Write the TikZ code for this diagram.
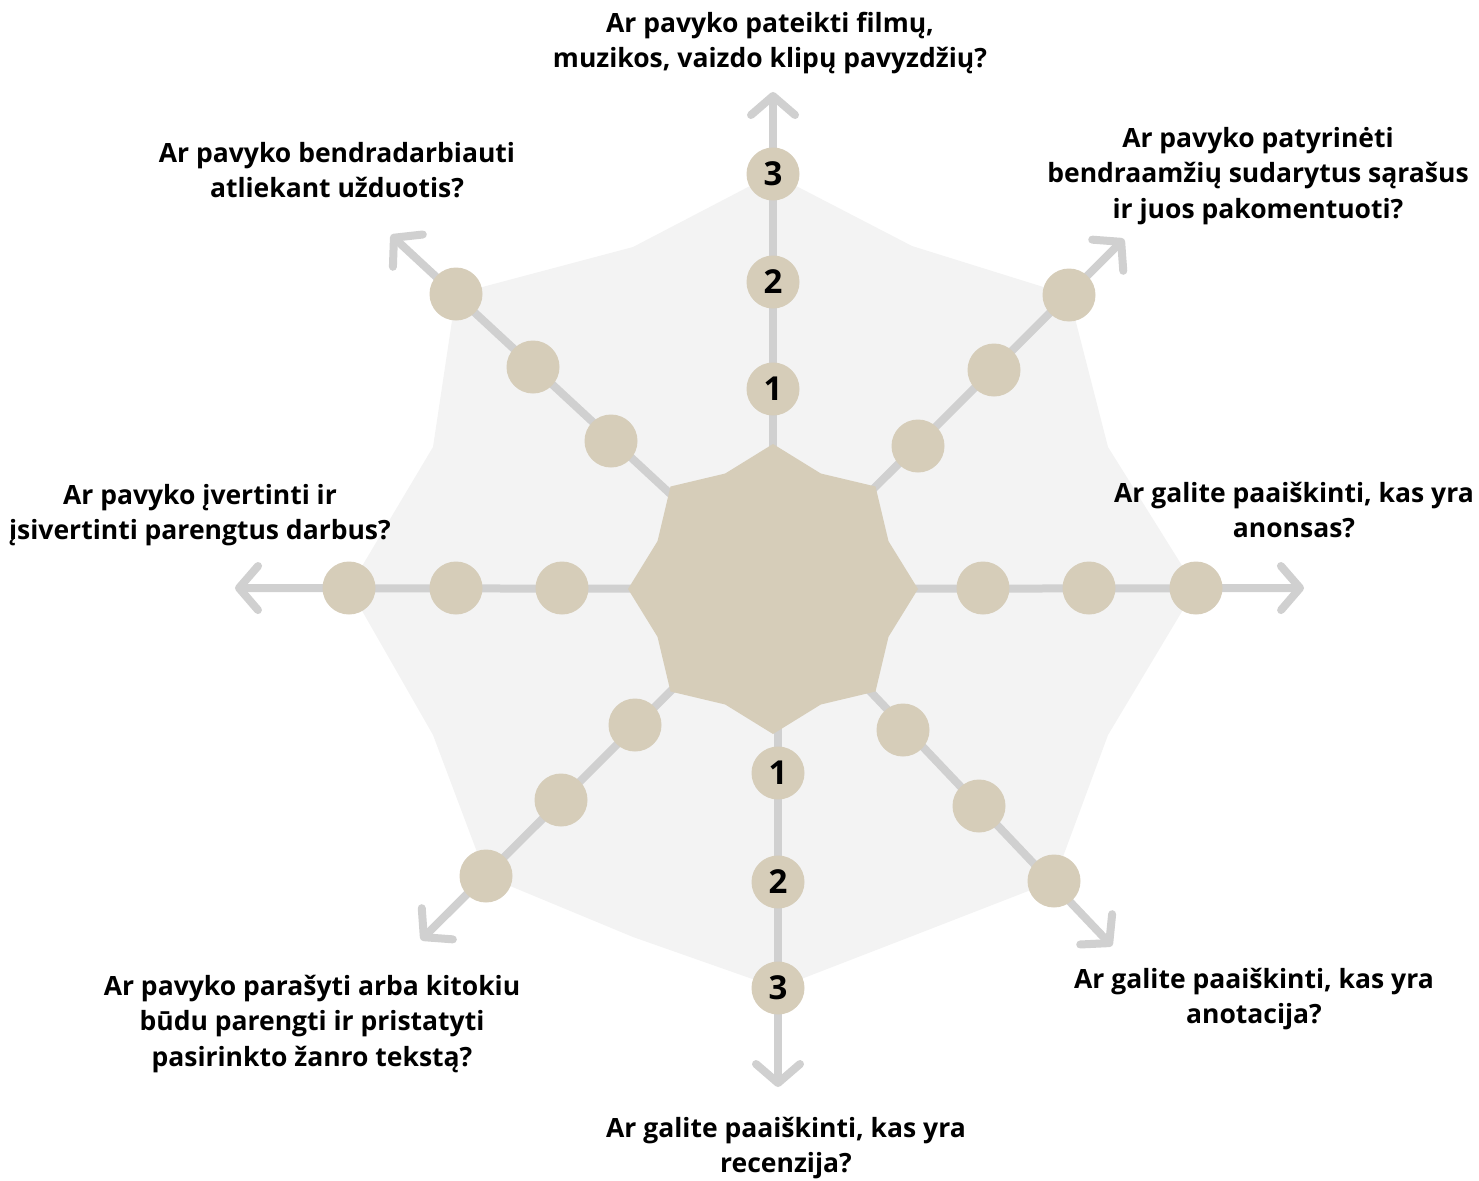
\documentclass[tikz,border=0pt]{standalone}
\usepackage{fontspec}
\setmainfont{Open Sans}
\usetikzlibrary{arrows.meta}
\definecolor{tanc}{HTML}{D6CDB9}
\definecolor{axisgray}{HTML}{D0D0D0}
\definecolor{bggray}{HTML}{F3F3F3}
\tikzset{
  lbl/.style={font=\bfseries\fontsize{26.5}{35.5}\selectfont, align=center, text=black, inner sep=0pt},
  dot/.style={circle, fill=tanc, minimum size=53pt, inner sep=0pt, font=\bfseries\fontsize{33}{33}\selectfont, text=black},
  axis/.style={draw=axisgray, line width=8pt, -{Straight Barb[length=19pt,width=44pt,round]}}
}
\begin{document}
\begin{tikzpicture}[x=1pt,y=-1pt]
\useasboundingbox (0,0) rectangle (1479,1180);
% background star polygon
\fill[bggray] (773,174) -- (912,246) -- (1069,295) -- (1108,447) -- (1196,588) -- (1108,735) -- (1054,881) -- (915,935) -- (778,988) -- (633,937) -- (486,876) -- (433,735) -- (349,588) -- (433,447) -- (456,294) -- (633,247) -- cycle;
% centre and arrow tips
\coordinate (o) at (773,589);
\coordinate (ob) at (778,660);
\coordinate (tN) at (773,92);
\coordinate (tNE) at (1124,239);
\coordinate (tE) at (1304,588);
\coordinate (tSE) at (1112,946);
\coordinate (tS) at (778,1087);
\coordinate (tSW) at (421,940);
\coordinate (tW) at (235,588);
\coordinate (tNW) at (391,235);
% axes
\draw[axis] (o) -- (tN);
\draw[axis] (o) -- (tNE);
\draw[axis] (o) -- (tE);
\draw[axis] (o) -- (tSE);
\draw[axis] (ob) -- (tS);
\draw[axis] (o) -- (tSW);
\draw[axis] (o) -- (tW);
\draw[axis] (o) -- (tNW);
% centre shape
\fill[tanc] (773,444) -- (820.8,473.5) -- (875.5,486.5) -- (888.5,541.2) -- (918,589) -- (888.5,636.8) -- (875.5,691.5) -- (820.8,704.5) -- (773,734) -- (725.2,704.5) -- (670.5,691.5) -- (657.5,636.8) -- (628,589) -- (657.5,541.2) -- (670.5,486.5) -- (725.2,473.5) -- cycle;
% dots
\node[dot] (n1) at (773,389) {1};
\node[dot] (n2) at (773,282) {2};
\node[dot] (n3) at (773,174) {3};
\node[dot] (ne1) at (918,446) {};
\node[dot] (ne2) at (994,370) {};
\node[dot] (ne3) at (1069,295) {};
\node[dot] (e1) at (983,588) {};
\node[dot] (e2) at (1089,588) {};
\node[dot] (e3) at (1196,588) {};
\node[dot] (se1) at (903,730) {};
\node[dot] (se2) at (979,806) {};
\node[dot] (se3) at (1054,881) {};
\node[dot] (s1) at (778,773) {1};
\node[dot] (s2) at (778,882) {2};
\node[dot] (s3) at (778,988) {3};
\node[dot] (sw1) at (635,725) {};
\node[dot] (sw2) at (561,800) {};
\node[dot] (sw3) at (486,876) {};
\node[dot] (w1) at (562,588) {};
\node[dot] (w2) at (456,588) {};
\node[dot] (w3) at (349,588) {};
\node[dot] (nw1) at (611,441) {};
\node[dot] (nw2) at (533,367) {};
\node[dot] (nw3) at (456,294) {};
% labels
\node[lbl] (lN) at (770,43) {Ar pavyko pateikti filmų,\\muzikos, vaizdo klipų pavyzdžių?};
\node[lbl] (lNE) at (1258,176) {Ar pavyko patyrinėti\\bendraamžių sudarytus sąrašus\\ir juos pakomentuoti?};
\node[lbl] (lE) at (1294,510) {Ar galite paaiškinti, kas yra\\anonsas?};
\node[lbl] (lSE) at (1254,999) {Ar galite paaiškinti, kas yra\\anotacija?};
\node[lbl] (lS) at (786,1148) {Ar galite paaiškinti, kas yra\\recenzija?};
\node[lbl] (lSW) at (312,1024) {Ar pavyko parašyti arba kitokiu\\būdu parengti ir pristatyti\\pasirinkto žanro tekstą?};
\node[lbl] (lW) at (200,515) {Ar pavyko įvertinti ir\\įsivertinti parengtus darbus?};
\node[lbl] (lNW) at (337,170) {Ar pavyko bendradarbiauti\\atliekant užduotis?};
\end{tikzpicture}
\end{document}
